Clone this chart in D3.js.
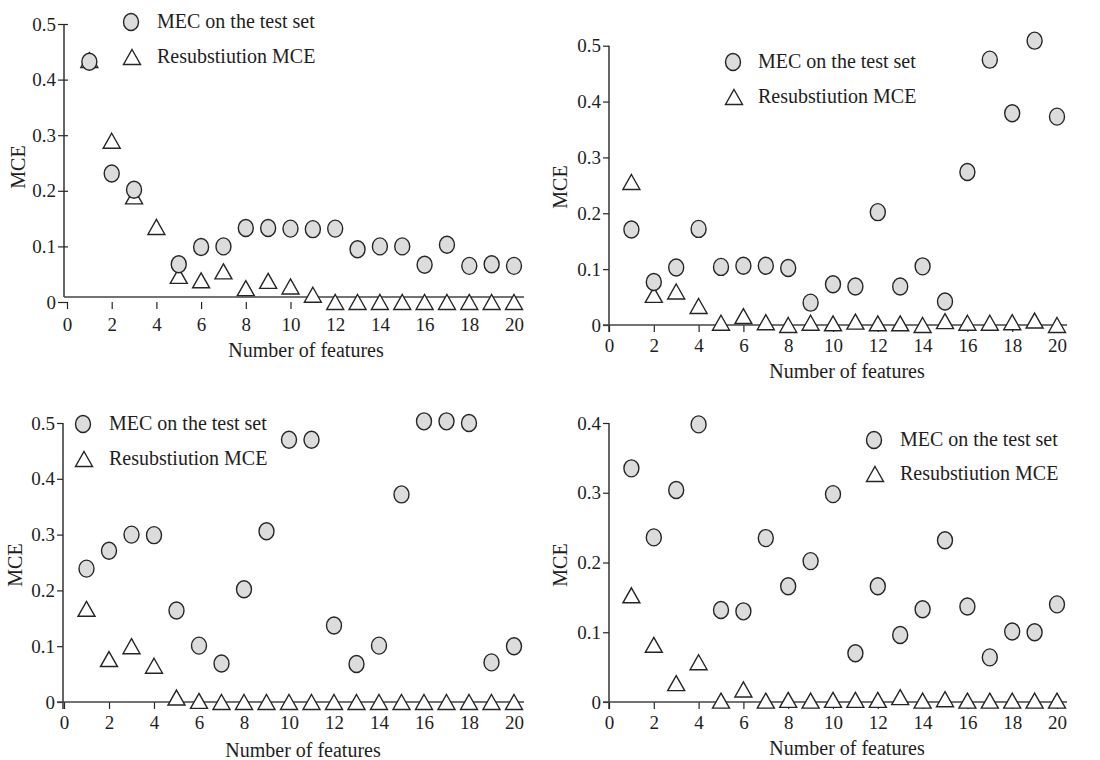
<!DOCTYPE html>
<html>
<head>
<meta charset="utf-8">
<script src="https://cdn.jsdelivr.net/npm/d3@7"></script>
<style>
  body { margin: 0; background: #fff; }
  svg text { font-family: "Liberation Serif", "Times New Roman", serif; fill: #1e1e1e; }
</style>
</head>
<body>
<svg id="chart" width="1100" height="760"></svg>
<script>
// Number of selected features (x values shared by every panel)
const features = [1, 2, 3, 4, 5, 6, 7, 8, 9, 10, 11, 12, 13, 14, 15, 16, 17, 18, 19, 20];

// Axis tick values
const xTickValues = [0, 2, 4, 6, 8, 10, 12, 14, 16, 18, 20];
const yTicksHalf = [0, 0.1, 0.2, 0.3, 0.4, 0.5];
const yTicksFour = [0, 0.1, 0.2, 0.3, 0.4];

// Text
const legendLabels = ["MEC on the test set", "Resubstiution MCE"];
const xTitle = "Number of features";
const yTitle = "MCE";

// Panel (a): top left
const testA = [0.432, 0.231, 0.202, null, 0.068, 0.099, 0.100, 0.133, 0.133, 0.132,
               0.131, 0.132, 0.095, 0.100, 0.100, 0.067, 0.103, 0.065, 0.068, 0.065];
const resubA = [0.435, 0.290, 0.190, 0.135, 0.047, 0.039, 0.055, 0.025, 0.038, 0.028,
                0.013, 0, 0, 0, 0, 0, 0, 0, 0, 0];

// Panel (b): top right
const testB = [0.171, 0.077, 0.103, 0.172, 0.104, 0.106, 0.106, 0.102, 0.040, 0.073,
               0.069, 0.202, 0.069, 0.105, 0.042, 0.274, 0.475, 0.379, 0.509, 0.373];
const resubB = [0.256, 0.054, 0.060, 0.034, 0.004, 0.016, 0.005, 0, 0.004, 0.003,
                0.006, 0.003, 0.003, 0, 0.007, 0.004, 0.004, 0.005, 0.008, 0];

// Panel (c): bottom left
const testC = [0.239, 0.271, 0.300, 0.299, 0.164, 0.101, 0.069, 0.202, 0.306, 0.470,
               0.470, 0.137, 0.068, 0.101, 0.372, 0.503, 0.503, 0.500, 0.071, 0.100];
const resubC = [0.167, 0.077, 0.100, 0.065, 0.008, 0.002, 0, 0, 0, 0,
                0, 0, 0, 0, 0, 0, 0, 0, 0, 0];

// Panel (d): bottom right
const testD = [0.335, 0.236, 0.304, 0.398, 0.132, 0.130, 0.235, 0.166, 0.202, 0.298,
               0.070, 0.166, 0.096, 0.133, 0.232, 0.137, 0.064, 0.101, 0.100, 0.140];
const resubD = [0.153, 0.082, 0.027, 0.057, 0.002, 0.018, 0.002, 0.003, 0.002, 0.003,
                0.003, 0.003, 0.007, 0.002, 0.004, 0.002, 0.002, 0.002, 0.002, 0.002];

// Layout of each panel (pixel geometry only)
const panels = [
  { test: testA, resub: resubA, yTicks: yTicksHalf, yMax: 0.5,
    axisX: 64, xRange: [67, 514], yRange: [302, 24], baseShift: -5, crossTicks: true,
    tickPad: 9, legend: { cx: 131, tx: 157, y: [22, 57] },
    yTitlePos: [18, 167], xTitlePos: [306, 357] },
  { test: testB, resub: resubB, yTicks: yTicksHalf, yMax: 0.5,
    axisX: 609, xRange: [609, 1057], yRange: [325, 45.7], baseShift: 0, crossTicks: false,
    tickPad: 7, legend: { cx: 733, tx: 758, y: [62, 97] },
    yTitlePos: [560, 187], xTitlePos: [847, 378] },
  { test: testC, resub: resubC, yTicks: yTicksHalf, yMax: 0.5,
    axisX: 63, xRange: [64, 514], yRange: [702, 423], baseShift: 0, crossTicks: false,
    tickPad: 7, legend: { cx: 83, tx: 109, y: [424, 459] },
    yTitlePos: [15, 565], xTitlePos: [303, 757] },
  { test: testD, resub: resubD, yTicks: yTicksFour, yMax: 0.4,
    axisX: 609, xRange: [609, 1057], yRange: [702, 423], baseShift: 0, crossTicks: false,
    tickPad: 7, legend: { cx: 874, tx: 900, y: [440, 474] },
    yTitlePos: [560, 565], xTitlePos: [847, 755] }
];

const svg = d3.select("#chart");
const ink = "#252525";
const circleFill = "#dcdcdc";

// Upward triangle centred on its bounding box
function trianglePath(w, h) {
  return `M0,${-h / 2}L${w / 2},${h / 2}L${-w / 2},${h / 2}Z`;
}
const triD = trianglePath(17, 15);

const fmt = d => d === 0 ? "0" : d3.format(".1f")(d);

panels.forEach(p => {
  const g = svg.append("g");
  const x = d3.scaleLinear().domain([0, 20]).range(p.xRange);
  const y = d3.scaleLinear().domain([0, p.yMax]).range(p.yRange);
  const baseY = y(0) + p.baseShift;

  // x axis ticks and labels
  const xAxis = g.append("g")
    .attr("transform", `translate(0,${y(0)})`)
    .call(d3.axisBottom(x).tickValues(xTickValues).tickSize(7).tickPadding(p.tickPad)
      .tickFormat(d3.format("d")));
  xAxis.select(".domain").remove();
  xAxis.selectAll("line").attr("stroke", ink).attr("stroke-width", 1.2);
  xAxis.selectAll("text").attr("font-size", 19);

  // y axis ticks and labels
  const yAxis = g.append("g")
    .attr("transform", `translate(${p.axisX},0)`)
    .call(d3.axisLeft(y).tickValues(p.yTicks).tickSize(6).tickPadding(2).tickFormat(fmt));
  yAxis.select(".domain").remove();
  yAxis.selectAll("line").attr("stroke", ink).attr("stroke-width", 1.2);
  if (p.crossTicks) yAxis.selectAll("line").attr("x1", 4);
  yAxis.selectAll("text").attr("font-size", 19);

  // axis lines
  g.append("line")
    .attr("x1", p.axisX).attr("x2", p.axisX)
    .attr("y1", y(p.yMax)).attr("y2", p.crossTicks ? baseY : y(0) + 7)
    .attr("stroke", ink).attr("stroke-width", 1.4);
  g.append("line")
    .attr("x1", p.crossTicks ? p.axisX : p.axisX - 6).attr("x2", x(20) + 10)
    .attr("y1", baseY).attr("y2", baseY)
    .attr("stroke", "#444").attr("stroke-width", 1.6);

  // titles
  g.append("text")
    .attr("x", p.xTitlePos[0]).attr("y", p.xTitlePos[1])
    .attr("text-anchor", "middle").attr("font-size", 20)
    .text(xTitle);
  g.append("text")
    .attr("transform", `translate(${p.yTitlePos[0]},${p.yTitlePos[1]}) rotate(-90)`)
    .attr("text-anchor", "middle").attr("dy", "0.35em").attr("font-size", 20)
    .text(yTitle);

  // resubstitution error (triangles)
  g.append("g").selectAll("path")
    .data(features.map((f, i) => [f, p.resub[i]]).filter(d => d[1] != null))
    .join("path")
    .attr("d", triD)
    .attr("transform", d => `translate(${x(d[0])},${y(d[1])})`)
    .attr("fill", "#fff").attr("stroke", ink).attr("stroke-width", 1.4);

  // test-set error (circles)
  g.append("g").selectAll("ellipse")
    .data(features.map((f, i) => [f, p.test[i]]).filter(d => d[1] != null))
    .join("ellipse")
    .attr("cx", d => x(d[0])).attr("cy", d => y(d[1]))
    .attr("rx", 7.5).attr("ry", 8.5)
    .attr("fill", circleFill).attr("stroke", ink).attr("stroke-width", 1.4);

  // legend
  const lg = g.append("g");
  lg.append("ellipse")
    .attr("cx", p.legend.cx).attr("cy", p.legend.y[0])
    .attr("rx", 7.5).attr("ry", 8.5)
    .attr("fill", circleFill).attr("stroke", ink).attr("stroke-width", 1.4);
  lg.append("path")
    .attr("d", triD)
    .attr("transform", `translate(${p.legend.cx + 1},${p.legend.y[1]})`)
    .attr("fill", "#fff").attr("stroke", ink).attr("stroke-width", 1.4);
  legendLabels.forEach((t, i) => {
    lg.append("text")
      .attr("x", p.legend.tx).attr("y", p.legend.y[i])
      .attr("dy", "0.32em").attr("font-size", 20)
      .text(t);
  });
});
</script>
</body>
</html>
